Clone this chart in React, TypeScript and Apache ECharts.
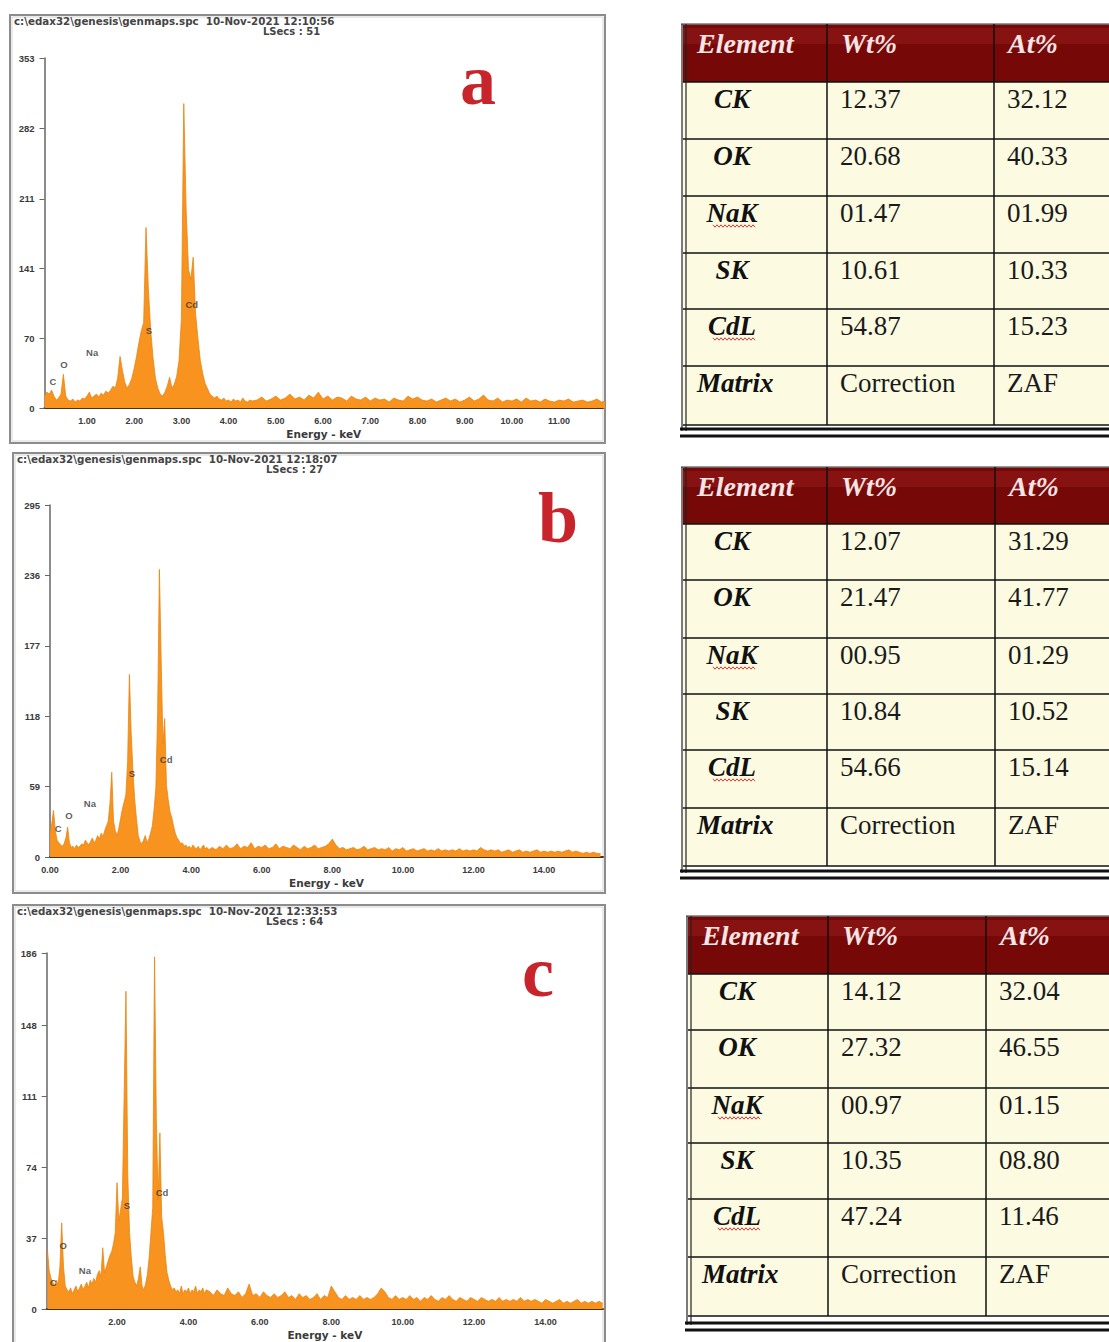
import React, { useEffect, useRef } from "react";
import * as echarts from "echarts";

// ---- Spectrum channels: fine low-energy window (0.05 keV) and coarser tail (0.1 keV) ----
const LOW_STEP = 0.05;
const TAIL_STEP = 0.1;

// Spectrum a (LSecs 51)
const aLowStart = 0.1;
const aLowCounts = [
  12, 16, 14, 18, 12, 8, 10, 14, 34, 12, 8, 7, 9, 6, 8, 7, 10, 9,
  12, 16, 10, 12, 14, 11, 15, 13, 17, 15, 18, 22, 20, 30, 52, 38, 26, 20, 24, 30,
  40, 52, 66, 78, 86, 182, 120, 78, 50, 30, 20, 14, 12, 16, 22, 31, 20, 24, 32, 48,
  90, 307, 200, 140, 130, 152, 95, 70, 48, 35, 25, 20, 14, 12, 10, 12, 9, 8, 10, 7,
  8, 6, 9, 7, 8, 6, 10, 7, 6, 8, 7,
];
const aTailStart = 4.6;
const aTailCounts = [
  8, 11, 7, 9, 12, 8, 10, 14, 9, 11,
  8, 13, 10, 16, 9, 12, 8, 11, 10, 7,
  12, 9, 8, 11, 7, 10, 8, 9, 6, 10,
  8, 7, 12, 9, 11, 8, 7, 9, 6, 8,
  10, 7, 9, 6, 8, 11, 7, 9, 13, 8,
  7, 10, 6, 8, 7, 9, 6, 10, 7, 8,
  6, 9, 7, 6, 8, 7, 9, 6, 7, 8,
  6, 7, 9, 6, 7,
];

// Spectrum b (LSecs 27)
const bLowStart = 0.0;
const bLowCounts = [
  20, 28, 39, 22, 14, 12, 10, 9, 11, 16, 25, 12, 8, 9, 7, 10, 8, 9, 11, 10,
  14, 12, 10, 13, 16, 12, 14, 18, 15, 20, 17, 22, 26, 30, 45, 71, 30, 22, 18, 24,
  32, 40, 46, 52, 80, 153, 104, 72, 48, 32, 18, 13, 11, 14, 18, 12, 15, 20, 26, 40,
  58, 120, 241, 165, 95, 116, 60, 48, 38, 33, 26, 20, 16, 14, 11, 12, 9, 10, 8, 9,
  7, 10, 8, 7, 9, 6, 8, 10, 7, 8, 6,
];
const bTailStart = 4.6;
const bTailCounts = [
  8, 6, 9, 7, 10, 7, 8, 11, 7, 9,
  8, 12, 7, 9, 8, 10, 7, 8, 11, 7,
  9, 8, 7, 10, 8, 6, 9, 7, 8, 10,
  7, 8, 9, 11, 15, 10, 7, 8, 6, 7,
  8, 6, 7, 9, 6, 7, 8, 6, 7, 6,
  8, 5, 7, 6, 8, 5, 6, 7, 5, 6,
  7, 5, 6, 5, 7, 5, 6, 5, 6, 5,
  7, 5, 6, 5, 6, 5, 8, 6, 5, 6,
  5, 6, 4, 5, 6, 4, 5, 6, 4, 5,
  4, 5, 6, 4, 5, 4, 5, 4, 5, 4,
  5, 6, 4, 5, 4, 3, 4, 3, 4, 3,
  3,
];

// Spectrum c (LSecs 64)
const cLowStart = 0.05;
const cLowCounts = [
  31, 20, 16, 14, 12, 15, 13, 22, 45, 22, 12, 10, 9, 11, 8, 10, 12, 9, 11,
  13, 10, 12, 14, 11, 15, 13, 16, 14, 18, 20, 17, 32, 19, 22, 25, 28, 30, 34, 40,
  66, 46, 52, 58, 113, 166, 70, 40, 27, 17, 14, 12, 16, 22, 12, 10, 13, 18, 27, 40,
  53, 184, 100, 57, 92, 48, 40, 28, 19, 15, 12, 10, 11, 9, 10, 8, 12, 8, 10, 9,
  11, 8, 10, 9, 12, 8, 10, 9, 11, 8, 10,
];
const cTailStart = 4.6;
const cTailCounts = [
  9, 7, 10, 8, 7, 11, 8, 7, 9, 6,
  8, 13, 7, 8, 6, 9, 7, 6, 8, 6,
  7, 9, 6, 7, 5, 8, 6, 7, 5, 6,
  8, 5, 7, 6, 12, 9, 6, 5, 7, 5,
  6, 5, 7, 5, 6, 5, 6, 8, 11, 9,
  6, 5, 7, 5, 6, 5, 7, 5, 6, 4,
  6, 5, 7, 5, 4, 6, 5, 7, 5, 4,
  6, 5, 4, 6, 5, 4, 6, 5, 4, 5,
  4, 6, 4, 5, 4, 5, 4, 6, 4, 5,
  4, 5, 4, 3, 5, 4, 3, 4, 5, 3,
  4, 3, 4, 5, 3, 4, 3, 4, 3, 4,
  3,
];

// Peak identification labels [element, keV, counts]
const peakLabelsA: [string, number, number][] = [
  ["C", 0.28, 27], ["O", 0.51, 44], ["Na", 1.11, 56], ["S", 2.31, 78], ["Cd", 3.22, 104],
];
const peakLabelsB: [string, number, number][] = [
  ["C", 0.23, 24], ["O", 0.54, 35], ["Na", 1.13, 45], ["S", 2.32, 70], ["Cd", 3.29, 82],
];
const peakLabelsC: [string, number, number][] = [
  ["C", 0.21, 14], ["O", 0.49, 33], ["Na", 1.1, 20], ["S", 2.28, 54], ["Cd", 3.26, 61],
];

// Axis ticks
const yTicksA = [0, 70, 141, 211, 282, 353];
const yTicksB = [0, 59, 118, 177, 236, 295];
const yTicksC = [0, 37, 74, 111, 148, 186];
const xTicksA = [1, 2, 3, 4, 5, 6, 7, 8, 9, 10, 11];
const xTicksB = [0, 2, 4, 6, 8, 10, 12, 14];
const xTicksC = [2, 4, 6, 8, 10, 12, 14];

// Acquisition headers
const headerA = ["c:\\edax32\\genesis\\genmaps.spc  10-Nov-2021 12:10:56", "LSecs : 51"];
const headerB = ["c:\\edax32\\genesis\\genmaps.spc  10-Nov-2021 12:18:07", "LSecs : 27"];
const headerC = ["c:\\edax32\\genesis\\genmaps.spc  10-Nov-2021 12:33:53", "LSecs : 64"];
const panelLetters = ["a", "b", "c"];

// Quantification tables
const tableHeaders = ["Element", "Wt%", "At%"];
const tableElements = ["CK", "OK", "NaK", "SK", "CdL", "Matrix"];
const wtA = ["12.37", "20.68", "01.47", "10.61", "54.87", "Correction"];
const atA = ["32.12", "40.33", "01.99", "10.33", "15.23", "ZAF"];
const wtB = ["12.07", "21.47", "00.95", "10.84", "54.66", "Correction"];
const atB = ["31.29", "41.77", "01.29", "10.52", "15.14", "ZAF"];
const wtC = ["14.12", "27.32", "00.97", "10.35", "47.24", "Correction"];
const atC = ["32.04", "46.55", "01.15", "08.80", "11.46", "ZAF"];

const channels = (lowStart: number, low: number[], tailStart: number, tail: number[]) => [
  ...low.map((c, i) => [+(lowStart + i * LOW_STEP).toFixed(2), c]),
  ...tail.map((c, i) => [+(tailStart + i * TAIL_STEP).toFixed(2), c]),
];

const SANS = "Liberation Sans";
const SERIF = "Liberation Serif";
const ORANGE = "#F7931E";

function xAxisFor(gridIndex: number, min: number, max: number, ticks: number[]) {
  return {
    type: "value",
    gridIndex,
    min,
    max,
    axisLine: { show: true, onZero: false, lineStyle: { color: "#4a3214", width: 2 } },
    axisTick: { show: false },
    splitLine: { show: false },
    axisLabel: {
      customValues: ticks,
      formatter: (v: number) => v.toFixed(2),
      color: "#3a3a3a",
      fontSize: 9,
      fontWeight: "bold",
      fontFamily: SANS,
      margin: 8,
    },
    name: "Energy - keV",
    nameLocation: "middle",
    nameGap: 20,
    nameTextStyle: { color: "#3a3a3a", fontSize: 10.5, fontWeight: "bold", fontFamily: "DejaVu Sans" },
  };
}

function yAxisFor(gridIndex: number, ticks: number[]) {
  return {
    type: "value",
    gridIndex,
    min: 0,
    max: ticks[ticks.length - 1],
    axisLine: { show: true, lineStyle: { color: "#666", width: 1.5 } },
    axisTick: { show: true, length: 5, customValues: ticks, lineStyle: { color: "#666" } },
    splitLine: { show: false },
    axisLabel: {
      customValues: ticks,
      color: "#3a3a3a",
      fontSize: 9.5,
      fontWeight: "bold",
      fontFamily: SANS,
      margin: 10,
    },
  };
}

function spectrumSeries(idx: number, data: number[][]) {
  return {
    type: "line",
    xAxisIndex: idx,
    yAxisIndex: idx,
    data,
    symbol: "none",
    showSymbol: false,
    clip: true,
    lineStyle: { color: "#E8850F", width: 0.8 },
    areaStyle: { color: ORANGE, opacity: 1 },
    silent: true,
  };
}

function labelSeries(idx: number, labels: [string, number, number][]) {
  return {
    type: "scatter",
    xAxisIndex: idx,
    yAxisIndex: idx,
    data: labels.map(([n, e, c]) => [e, c, n]),
    symbolSize: 1,
    itemStyle: { color: "rgba(0,0,0,0)" },
    silent: true,
    z: 5,
    label: {
      show: true,
      position: "inside",
      formatter: (p: any) => p.data[2],
      color: "#333",
      fontSize: 9.5,
      fontWeight: "bold",
      fontFamily: SANS,
    },
  };
}

function txt(x: number, y: number, text: string, opts: any) {
  return {
    type: "text",
    x,
    y,
    silent: true,
    style: { text, textVerticalAlign: "middle", ...opts },
  };
}

function panelFrame(x: number, y: number, w: number, h: number, header: string[], letter: string, lx: number, ly: number) {
  return [
    { type: "rect", shape: { x, y, width: w, height: h }, style: { fill: "none", stroke: "#8c8c8c", lineWidth: 2 }, silent: true },
    { type: "rect", shape: { x: x + 2, y: y + 2, width: w - 4, height: h - 4 }, style: { fill: "none", stroke: "#d4d4d4", lineWidth: 1 }, silent: true },
    txt(x + 4, y + 5.5, header[0], { fill: "#444", fontFamily: "DejaVu Sans", fontSize: 10.3, fontWeight: "bold" }),
    txt(x + 253, y + 16, header[1], { fill: "#444", fontFamily: "DejaVu Sans", fontSize: 10, fontWeight: "bold" }),
    txt(lx, ly, letter, { fill: "#C8242B", fontFamily: SERIF, fontSize: 72, fontWeight: "bold", textAlign: "center" }),
  ];
}

function wavy(x0: number, x1: number, y: number) {
  const pts: number[][] = [];
  let up = true;
  for (let x = x0; x <= x1; x += 2) {
    pts.push([x, up ? y - 1.2 : y + 1.2]);
    up = !up;
  }
  return { type: "polyline", shape: { points: pts }, style: { stroke: "#d23a3a", lineWidth: 1, fill: "none" }, silent: true };
}

type TableLayout = {
  left: number;
  c1: number;
  c2: number;
  top: number;
  headerBottom: number;
  rowTops: number[];
  bottom: number;
  heavy: number[];
};

function tableGraphics(t: TableLayout, wt: string[], at: string[]) {
  const right = 1114;
  const els: any[] = [];
  // header band
  els.push({ type: "rect", shape: { x: t.left, y: t.top, width: right - t.left, height: t.headerBottom - t.top }, style: { fill: "#760808" }, silent: true });
  els.push({ type: "rect", shape: { x: t.left, y: t.top + 4, width: right - t.left, height: 16 }, style: { fill: "#861212" }, silent: true });
  // body
  els.push({ type: "rect", shape: { x: t.left, y: t.headerBottom, width: right - t.left, height: t.bottom - t.headerBottom }, style: { fill: "#FCFBE2" }, silent: true });
  // top rule
  els.push({ type: "line", shape: { x1: t.left - 2, y1: t.top, x2: right, y2: t.top }, style: { stroke: "#777", lineWidth: 1.5 }, silent: true });
  // horizontal rules
  [t.headerBottom, ...t.rowTops.slice(1), t.bottom].forEach((y) =>
    els.push({ type: "line", shape: { x1: t.left, y1: y, x2: right, y2: y }, style: { stroke: "#111", lineWidth: 1.5 }, silent: true })
  );
  // column rules
  [t.c1, t.c2].forEach((x) =>
    els.push({ type: "line", shape: { x1: x, y1: t.top, x2: x, y2: t.bottom }, style: { stroke: "#111", lineWidth: 1.5 }, silent: true })
  );
  // double left border
  [t.left - 1, t.left + 3].forEach((x) =>
    els.push({ type: "line", shape: { x1: x, y1: t.top, x2: x, y2: t.heavy[0] + 2 }, style: { stroke: "#222", lineWidth: 1.2 }, silent: true })
  );
  // heavy double bottom rule
  t.heavy.forEach((y) =>
    els.push({ type: "line", shape: { x1: t.left - 3, y1: y, x2: right, y2: y }, style: { stroke: "#111", lineWidth: 3 }, silent: true })
  );
  // header texts
  const hy = t.top + 19;
  const hx = [t.left + 14, t.c1 + 14, t.c2 + 14];
  tableHeaders.forEach((h, i) =>
    els.push(txt(hx[i], hy, h, { fill: "#f7e4e4", fontFamily: SERIF, fontSize: 28, fontWeight: "bold", fontStyle: "italic" }))
  );
  // rows
  tableElements.forEach((name, r) => {
    const y = t.rowTops[r] + 17;
    const isMatrix = r === tableElements.length - 1;
    els.push(
      txt(isMatrix ? t.left + 14 : t.left + 49, y, name, {
        fill: "#111",
        fontFamily: SERIF,
        fontSize: 27,
        fontWeight: "bold",
        fontStyle: "italic",
        textAlign: isMatrix ? "left" : "center",
      })
    );
    if (name === "NaK" || name === "CdL") els.push(wavy(t.left + 30, t.left + 72, y + 13));
    els.push(txt(t.c1 + 13, y, wt[r], { fill: "#1a1a1a", fontFamily: SERIF, fontSize: 27 }));
    els.push(txt(t.c2 + 13, y, at[r], { fill: "#1a1a1a", fontFamily: SERIF, fontSize: 27 }));
  });
  return els;
}

const tableA: TableLayout = { left: 683, c1: 827, c2: 994, top: 24, headerBottom: 82, rowTops: [82, 139, 196, 253, 309, 366], bottom: 425, heavy: [429, 436] };
const tableB: TableLayout = { left: 683, c1: 827, c2: 995, top: 467, headerBottom: 524, rowTops: [524, 580, 638, 694, 750, 808], bottom: 866, heavy: [871, 878] };
const tableC: TableLayout = { left: 688, c1: 828, c2: 986, top: 916, headerBottom: 974, rowTops: [974, 1030, 1088, 1143, 1199, 1257], bottom: 1316, heavy: [1323, 1330] };

export default function App() {
  const ref = useRef<HTMLDivElement>(null);

  useEffect(() => {
    if (!ref.current) return;
    const chart = echarts.init(ref.current, undefined, { renderer: "svg" });

    const option = {
      animation: false,
      backgroundColor: "#ffffff",
      grid: [
        { left: 44.5, top: 58, width: 558.5, height: 350 },
        { left: 50, top: 505, width: 553, height: 352 },
        { left: 46.7, top: 953, width: 556.3, height: 356 },
      ],
      xAxis: [
        xAxisFor(0, 0.1, 11.93, xTicksA),
        xAxisFor(1, 0, 15.67, xTicksB),
        xAxisFor(2, 0.03, 15.61, xTicksC),
      ],
      yAxis: [yAxisFor(0, yTicksA), yAxisFor(1, yTicksB), yAxisFor(2, yTicksC)],
      series: [
        spectrumSeries(0, channels(aLowStart, aLowCounts, aTailStart, aTailCounts)),
        spectrumSeries(1, channels(bLowStart, bLowCounts, bTailStart, bTailCounts)),
        spectrumSeries(2, channels(cLowStart, cLowCounts, cTailStart, cTailCounts)),
        labelSeries(0, peakLabelsA),
        labelSeries(1, peakLabelsB),
        labelSeries(2, peakLabelsC),
      ],
      graphic: [
        ...panelFrame(10, 15, 595, 428, headerA, panelLetters[0], 478, 80),
        ...panelFrame(13, 453, 592, 440, headerB, panelLetters[1], 558, 518),
        ...panelFrame(13, 905, 592, 445, headerC, panelLetters[2], 538, 972),
        ...tableGraphics(tableA, wtA, atA),
        ...tableGraphics(tableB, wtB, atB),
        ...tableGraphics(tableC, wtC, atC),
      ],
    };

    chart.setOption(option as any);
    return () => chart.dispose();
  }, []);

  return (
    <div
      ref={ref}
      style={{ position: "absolute", left: 0, top: 0, width: 1109, height: 1342, background: "#fff" }}
    />
  );
}
